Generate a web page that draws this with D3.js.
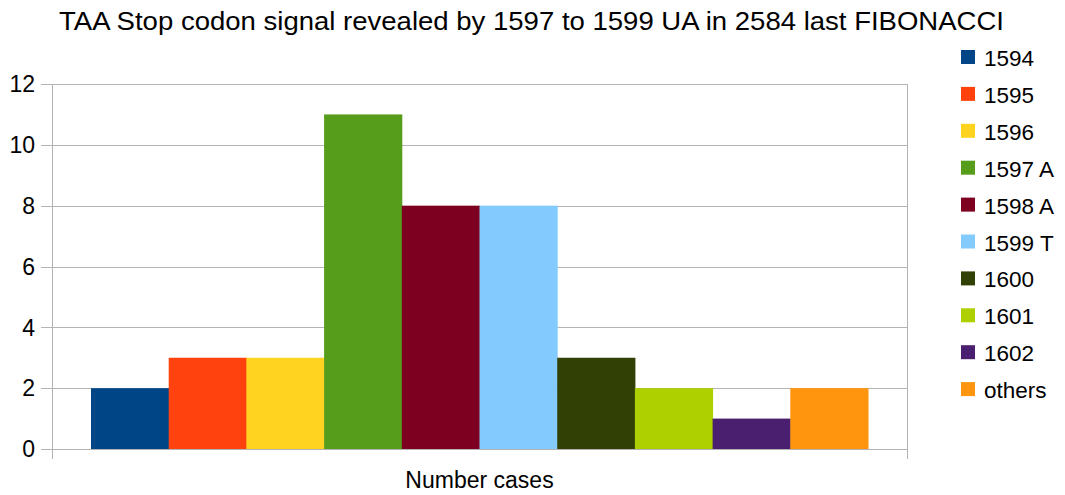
<!DOCTYPE html>
<html><head><meta charset="utf-8">
<script src="https://cdn.jsdelivr.net/npm/d3@7"></script>
<style>body{margin:0;background:#fff}svg{display:block;font-family:"Liberation Sans",Arimo,Arial,sans-serif}</style>
</head><body><svg id="c" width="1065" height="495"></svg>
<script>
const series = ["1594","1595","1596","1597 A","1598 A","1599 T","1600","1601","1602","others"];
const values = [2,3,3,11,8,8,3,2,1,2];
const colors = ["#004586","#ff420e","#ffd320","#579d1c","#7e0021","#83caff","#314004","#aecf00","#4b1f6f","#ff950e"];
const yTicks = [0,2,4,6,8,10,12];
const category = "Number cases";
const title = "TAA Stop codon signal revealed by 1597 to 1599 UA in 2584 last FIBONACCI";

const svg = d3.select("#c");
const L=52, R=907, T=84, B=449;
const y = d3.scaleLinear().domain([0,12]).range([B,T]);
const xc = d3.scaleBand().domain([category]).range([L,R]).paddingInner(0).paddingOuter(39/777);
const xs = d3.scaleBand().domain(series).range([xc(category), xc(category)+xc.bandwidth()]);

// gridlines
svg.append("g").selectAll("line").data(yTicks).join("line")
  .attr("x1",L-11).attr("x2",R).attr("y1",d=>Math.round(y(d))+0.5).attr("y2",d=>Math.round(y(d))+0.5)
  .attr("stroke","#b3b3b3").attr("stroke-width",1);
// plot border sides
svg.append("line").attr("x1",L+0.5).attr("x2",L+0.5).attr("y1",T).attr("y2",B+10).attr("stroke","#b3b3b3");
svg.append("line").attr("x1",R+0.5).attr("x2",R+0.5).attr("y1",T).attr("y2",B+10).attr("stroke","#b3b3b3");

// bars
svg.append("g").selectAll("rect").data(values).join("rect")
  .attr("x",(d,i)=>xs(series[i])).attr("width",xs.bandwidth()+0.5)
  .attr("y",d=>y(d)).attr("height",d=>B-y(d)).attr("fill",(d,i)=>colors[i]);

// y labels
svg.append("g").selectAll("text").data(yTicks).join("text")
  .attr("x",35).attr("y",d=>y(d)).attr("dy","0.36em").attr("text-anchor","end")
  .attr("font-size",23).attr("fill","#000").text(d=>d);

// x label
svg.append("text").attr("x",(L+R)/2).attr("y",488).attr("text-anchor","middle")
  .attr("font-size",23).text(category);

// title
svg.append("text").attr("x",531.5).attr("y",30).attr("text-anchor","middle")
  .attr("font-size",26).attr("textLength",945).attr("lengthAdjust","spacingAndGlyphs").text(title);

// legend
const lg = svg.append("g").selectAll("g").data(series).join("g")
  .attr("transform",(d,i)=>`translate(961,${57+i*36.9})`);
lg.append("rect").attr("x",0).attr("y",-7).attr("width",14).attr("height",14).attr("fill",(d,i)=>colors[i]);
lg.append("text").attr("x",23).attr("y",0).attr("dy","0.4em").attr("font-size",22.5).text(d=>d);
</script></body></html>
